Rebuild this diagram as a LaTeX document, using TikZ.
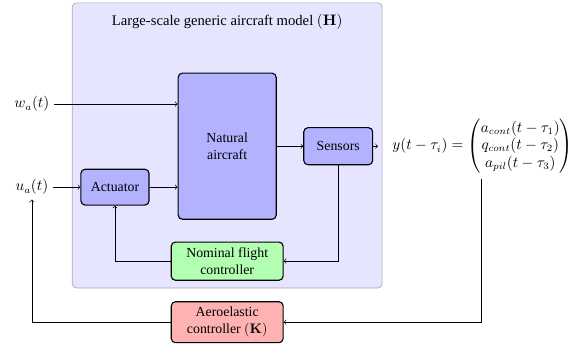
\documentclass[tikz,border=0pt]{standalone}
\usepackage{amsmath}
\usepackage[no-math]{fontspec}
\setmainfont{Liberation Serif}
\usepackage{tikz}

\begin{document}
\begin{tikzpicture}[
    block/.style={draw, thick, rounded corners=3pt, fill=blue!30, align=center},
    frame/.style={draw=gray!70, rounded corners=3pt, fill=blue!10},
    sig/.style={font=\fontsize{10.6}{12.7}\selectfont},
    every path/.style={line width=0.45pt}
  ]
  \useasboundingbox (0,0) rectangle (14.73,8.763);

  % outer model box and its title
  \node[frame, minimum width=7.87cm, minimum height=7.24cm] (H) at (5.77,5.07) {};
  \node[font=\fontsize{10.6}{12.7}\selectfont] (Htitle) at (5.77,8.20) {Large-scale generic aircraft model $(\mathbf{H})$};

  % blocks
  \node[block, minimum width=2.49cm, minimum height=3.71cm] (natural) at (5.77,5.05) {Natural\\aircraft};
  \node[block, minimum width=1.75cm, minimum height=0.94cm] (sensors) at (8.59,5.05) {Sensors};
  \node[block, minimum width=1.73cm, minimum height=0.91cm] (actuator) at (2.92,4.01) {Actuator};
  \node[block, fill=green!30, minimum width=2.84cm, minimum height=0.97cm] (nominal) at (5.77,2.13) {Nominal flight\\controller};
  \node[block, fill=red!30, minimum width=2.84cm, minimum height=1.04cm] (aeroel) at (5.77,0.58) {Aeroelastic\\controller $(\mathbf{K})$};

  % signals
  \node[sig] (wa) at (0.81,6.12) {$w_a(t)$};
  \node[sig] (ua) at (0.81,4.01) {$u_a(t)$};
  \node[sig, anchor=west, inner xsep=0.36cm, inner ysep=1pt] (yout) at (9.60,5.05)
    {$y(t-\tau_i) = \begin{pmatrix} a_{cont}(t-\tau_1)\\ q_{cont}(t-\tau_2)\\ a_{pil}(t-\tau_3)\end{pmatrix}$};
  \coordinate (ytap) at ([yshift=-0.1cm]yout.south -| 12.22,0);

  % connections
  \draw[->] (wa.east) -- (wa.east -| natural.west);
  \draw[->] (ua.east) -- (actuator.west);
  \draw[->] (actuator.east) -- (actuator.east -| natural.west);
  \draw[->] (natural.east |- sensors.west) -- (sensors.west);
  \draw[->] (sensors.east) -- (yout.west);
  \draw[->] (sensors.south) |- (nominal.east);
  \draw[->] (nominal.west) -| (actuator.south);
  \draw[->] (ytap) |- (aeroel.east);
  \draw[->] (aeroel.west) -| (ua.south);
\end{tikzpicture}
\end{document}
